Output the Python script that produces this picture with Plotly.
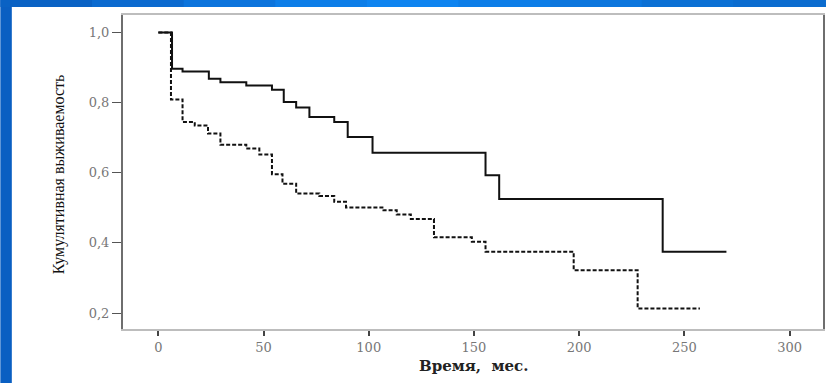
import plotly.graph_objects as go

# ---- data ----
solid_t = [0, 6.5, 11.5, 24, 29.5, 41.8, 54, 59.6, 65.5, 71.8, 83.6, 90, 101.8, 155.5, 162, 239.7, 270]
solid_s = [1.0, 0.897, 0.889, 0.868, 0.858, 0.849, 0.837, 0.802, 0.786, 0.759, 0.745, 0.702, 0.657, 0.593, 0.525, 0.375, 0.375]

dash_t = [0, 6, 11.5, 17.3, 23.6, 29.5, 41.8, 48, 54, 59, 65.5, 76.5, 83.6, 89.2, 107, 113.3, 120, 131, 149, 155.5, 197.4, 227.8, 257.4]
dash_s = [1.0, 0.809, 0.745, 0.735, 0.712, 0.680, 0.669, 0.652, 0.596, 0.569, 0.541, 0.534, 0.517, 0.501, 0.493, 0.481, 0.468, 0.416, 0.403, 0.375, 0.322, 0.213, 0.213]

x_ticks = [0, 50, 100, 150, 200, 250, 300]
y_ticks = [0.2, 0.4, 0.6, 0.8, 1.0]
y_tick_text = ["0,2", "0,4", "0,6", "0,8", "1,0"]

W, H = 827, 383
L, R, T, B = 123, 825, 15, 329

def px(xp):
    return (xp - L) / (R - L)

def py(yp):
    return (B - yp) / (B - T)

fig = go.Figure()
fig.add_trace(go.Scatter(x=solid_t, y=solid_s, mode="lines", line_shape="hv",
                         line=dict(color="#111111", width=2)))
fig.add_trace(go.Scatter(x=dash_t, y=dash_s, mode="lines", line_shape="hv",
                         line=dict(color="#111111", width=2, dash="4px,2px")))

shapes = []
# blue border (left strip and top strip)
shapes.append(dict(type="rect", xref="paper", yref="paper", x0=px(0), x1=px(11.5), y0=py(W), y1=py(0),
                   fillcolor="#0a5fc2", line=dict(width=0), layer="below"))
top_cols = ["#0a62c4", "#0b6acf", "#0c74dc", "#0d7ee8", "#0e84f0", "#0d7ee8", "#0c76dd", "#0b70d4", "#0b6ccf"]
n = len(top_cols)
for i, c in enumerate(top_cols):
    shapes.append(dict(type="rect", xref="paper", yref="paper",
                       x0=px(W * i / n), x1=px(W * (i + 1) / n + 1), y0=py(7), y1=py(0),
                       fillcolor=c, line=dict(width=0), layer="below"))

tick_font = dict(family="DejaVu Serif", size=13, color="#777")

fig.update_layout(
    width=W, height=H,
    margin=dict(l=L, r=W - R, t=T, b=H - B),
    paper_bgcolor="white", plot_bgcolor="white",
    showlegend=False,
    shapes=shapes,
    xaxis=dict(range=[-16.8, 315.9], tickvals=x_ticks, ticks="outside", ticklen=5,
               tickcolor="#444", tickwidth=2,
               showgrid=False, zeroline=False, showline=True, linecolor="#bdbdbd", linewidth=2, mirror=True,
               tickfont=tick_font),
    yaxis=dict(range=[0.1544, 1.050], tickvals=y_ticks, ticktext=y_tick_text, ticks="outside", ticklen=9,
               tickcolor="#555", tickwidth=1,
               showgrid=False, zeroline=False, showline=True, linecolor="#6e6e6e", linewidth=2, mirror=True,
               tickfont=tick_font),
    annotations=[
        dict(text="Кумулятивная выживаемость", xref="paper", yref="paper", x=px(59), y=py(174),
             showarrow=False, textangle=-90, xanchor="center", yanchor="middle",
             font=dict(family="Liberation Serif", size=16, color="#111")),
        dict(text="<b>Время,  мес.</b>", xref="paper", yref="paper", x=px(474), y=py(366),
             showarrow=False, xanchor="center", yanchor="middle",
             font=dict(family="DejaVu Serif", size=15, color="#222")),
    ],
)

fig.write_html("out.html")
